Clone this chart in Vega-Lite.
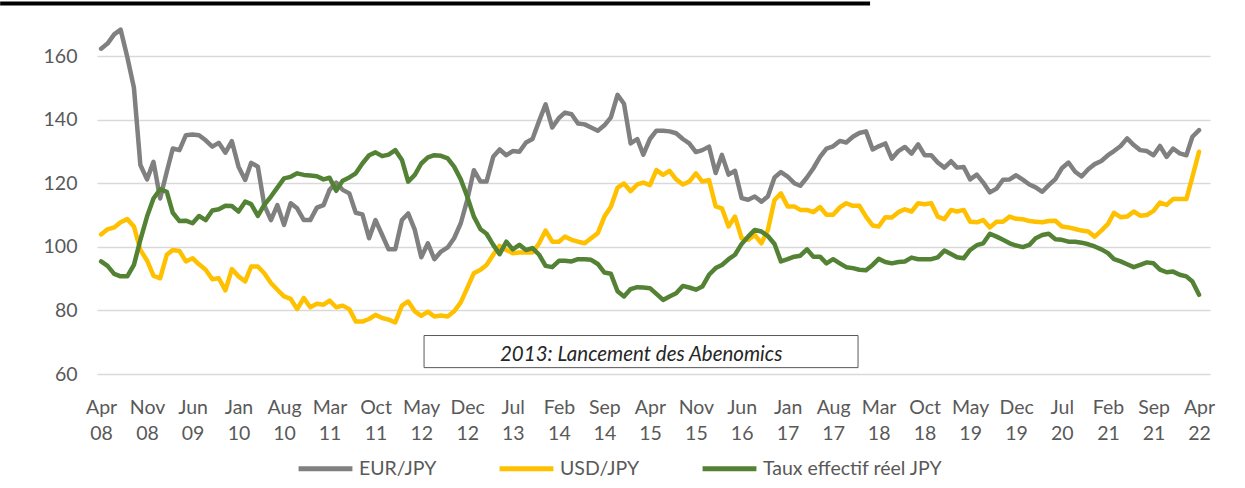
{
  "$schema": "https://vega.github.io/schema/vega-lite/v6.json",
  "autosize": "none",
  "width": 1113,
  "height": 318,
  "padding": {"left": 97, "top": 56, "right": 35, "bottom": 114},
  "background": "white",
  "config": {
    "font": "Lato",
    "view": {"stroke": null},
    "axis": {"labelFont": "Lato", "labelColor": "#595959", "labelFontSize": 19.5, "ticks": false, "domain": false, "title": null},
    "legend": {"labelFont": "Lato", "labelColor": "#595959", "labelFontSize": 19.5, "labelLimit": 400}
  },
  "data": {
    "format": {"parse": {"m": "utc:'%Y-%m'"}},
    "values": [
      {"m":"2008-04","eur":162.3,"usd":103.9,"reer":95.4},
      {"m":"2008-05","eur":163.9,"usd":105.5,"reer":94.0},
      {"m":"2008-06","eur":166.8,"usd":106.1,"reer":91.5},
      {"m":"2008-07","eur":168.3,"usd":107.7,"reer":90.7},
      {"m":"2008-08","eur":159.7,"usd":108.7,"reer":90.7},
      {"m":"2008-09","eur":150.0,"usd":106.4,"reer":94.3},
      {"m":"2008-10","eur":125.7,"usd":99.0,"reer":102.2},
      {"m":"2008-11","eur":121.2,"usd":95.7,"reer":109.5},
      {"m":"2008-12","eur":126.7,"usd":90.9,"reer":115.2},
      {"m":"2009-01","eur":115.2,"usd":90.1,"reer":118.1},
      {"m":"2009-02","eur":123.6,"usd":97.5,"reer":117.3},
      {"m":"2009-03","eur":130.9,"usd":99.0,"reer":110.7},
      {"m":"2009-04","eur":130.4,"usd":98.7,"reer":108.1},
      {"m":"2009-05","eur":135.1,"usd":95.4,"reer":108.2},
      {"m":"2009-06","eur":135.3,"usd":96.4,"reer":107.4},
      {"m":"2009-07","eur":135.1,"usd":94.5,"reer":109.7},
      {"m":"2009-08","eur":133.5,"usd":92.8,"reer":108.4},
      {"m":"2009-09","eur":131.5,"usd":89.8,"reer":111.4},
      {"m":"2009-10","eur":132.7,"usd":90.1,"reer":111.8},
      {"m":"2009-11","eur":129.6,"usd":86.3,"reer":112.9},
      {"m":"2009-12","eur":133.2,"usd":93.0,"reer":112.8},
      {"m":"2010-01","eur":125.2,"usd":90.7,"reer":111.1},
      {"m":"2010-02","eur":121.0,"usd":89.1,"reer":114.2},
      {"m":"2010-03","eur":126.4,"usd":93.8,"reer":113.4},
      {"m":"2010-04","eur":125.2,"usd":93.8,"reer":109.7},
      {"m":"2010-05","eur":113.1,"usd":91.7,"reer":113.2},
      {"m":"2010-06","eur":108.4,"usd":88.6,"reer":115.8},
      {"m":"2010-07","eur":113.1,"usd":86.5,"reer":118.6},
      {"m":"2010-08","eur":106.9,"usd":84.4,"reer":121.5},
      {"m":"2010-09","eur":113.7,"usd":83.6,"reer":122.0},
      {"m":"2010-10","eur":112.1,"usd":80.4,"reer":123.1},
      {"m":"2010-11","eur":108.4,"usd":83.9,"reer":122.6},
      {"m":"2010-12","eur":108.4,"usd":81.0,"reer":122.4},
      {"m":"2011-01","eur":112.3,"usd":82.1,"reer":122.2},
      {"m":"2011-02","eur":113.1,"usd":81.8,"reer":121.2},
      {"m":"2011-03","eur":117.9,"usd":83.1,"reer":121.7},
      {"m":"2011-04","eur":120.2,"usd":81.0,"reer":117.6},
      {"m":"2011-05","eur":117.9,"usd":81.5,"reer":120.8},
      {"m":"2011-06","eur":116.8,"usd":80.4,"reer":121.8},
      {"m":"2011-07","eur":110.7,"usd":76.5,"reer":123.1},
      {"m":"2011-08","eur":110.2,"usd":76.5,"reer":126.2},
      {"m":"2011-09","eur":102.7,"usd":77.3,"reer":128.8},
      {"m":"2011-10","eur":108.4,"usd":78.6,"reer":129.7},
      {"m":"2011-11","eur":103.7,"usd":77.6,"reer":128.5},
      {"m":"2011-12","eur":99.2,"usd":77.1,"reer":129.0},
      {"m":"2012-01","eur":99.2,"usd":76.2,"reer":130.4},
      {"m":"2012-02","eur":108.4,"usd":81.5,"reer":127.3},
      {"m":"2012-03","eur":110.5,"usd":82.8,"reer":120.5},
      {"m":"2012-04","eur":105.3,"usd":79.7,"reer":122.6},
      {"m":"2012-05","eur":96.7,"usd":78.3,"reer":126.2},
      {"m":"2012-06","eur":101.1,"usd":79.6,"reer":128.1},
      {"m":"2012-07","eur":96.1,"usd":78.1,"reer":128.8},
      {"m":"2012-08","eur":98.5,"usd":78.4,"reer":128.6},
      {"m":"2012-09","eur":99.8,"usd":78.1,"reer":127.8},
      {"m":"2012-10","eur":102.7,"usd":79.7,"reer":125.2},
      {"m":"2012-11","eur":107.4,"usd":82.5,"reer":121.2},
      {"m":"2012-12","eur":114.7,"usd":87.0,"reer":115.8},
      {"m":"2013-01","eur":124.1,"usd":91.7,"reer":109.5},
      {"m":"2013-02","eur":120.5,"usd":92.8,"reer":105.5},
      {"m":"2013-03","eur":120.5,"usd":94.3,"reer":104.1},
      {"m":"2013-04","eur":128.3,"usd":97.5,"reer":100.6},
      {"m":"2013-05","eur":130.6,"usd":100.3,"reer":97.7},
      {"m":"2013-06","eur":128.8,"usd":99.0,"reer":101.6},
      {"m":"2013-07","eur":130.1,"usd":98.0,"reer":99.2},
      {"m":"2013-08","eur":129.9,"usd":98.2,"reer":100.6},
      {"m":"2013-09","eur":132.8,"usd":98.2,"reer":99.0},
      {"m":"2013-10","eur":133.9,"usd":98.2,"reer":99.6},
      {"m":"2013-11","eur":139.6,"usd":101.1,"reer":97.5},
      {"m":"2013-12","eur":144.8,"usd":105.1,"reer":94.0},
      {"m":"2014-01","eur":137.5,"usd":101.6,"reer":93.6},
      {"m":"2014-02","eur":140.5,"usd":101.6,"reer":95.6},
      {"m":"2014-03","eur":142.2,"usd":103.2,"reer":95.6},
      {"m":"2014-04","eur":141.7,"usd":102.2,"reer":95.4},
      {"m":"2014-05","eur":138.8,"usd":101.6,"reer":96.1},
      {"m":"2014-06","eur":138.5,"usd":101.1,"reer":96.1},
      {"m":"2014-07","eur":137.5,"usd":102.7,"reer":95.9},
      {"m":"2014-08","eur":136.5,"usd":104.3,"reer":94.6},
      {"m":"2014-09","eur":138.2,"usd":109.5,"reer":91.9},
      {"m":"2014-10","eur":140.7,"usd":112.6,"reer":91.5},
      {"m":"2014-11","eur":147.8,"usd":118.6,"reer":86.0},
      {"m":"2014-12","eur":145.0,"usd":119.9,"reer":84.4},
      {"m":"2015-01","eur":132.5,"usd":117.5,"reer":86.7},
      {"m":"2015-02","eur":133.9,"usd":119.6,"reer":87.3},
      {"m":"2015-03","eur":129.0,"usd":120.2,"reer":87.2},
      {"m":"2015-04","eur":133.9,"usd":119.4,"reer":87.0},
      {"m":"2015-05","eur":136.5,"usd":124.1,"reer":85.2},
      {"m":"2015-06","eur":136.5,"usd":122.6,"reer":83.3},
      {"m":"2015-07","eur":136.3,"usd":123.9,"reer":84.4},
      {"m":"2015-08","eur":135.7,"usd":121.2,"reer":85.4},
      {"m":"2015-09","eur":133.9,"usd":119.6,"reer":87.7},
      {"m":"2015-10","eur":132.5,"usd":120.5,"reer":87.2},
      {"m":"2015-11","eur":129.8,"usd":123.1,"reer":86.5},
      {"m":"2015-12","eur":130.4,"usd":120.5,"reer":87.5},
      {"m":"2016-01","eur":131.5,"usd":121.0,"reer":91.2},
      {"m":"2016-02","eur":123.2,"usd":112.7,"reer":93.3},
      {"m":"2016-03","eur":128.9,"usd":112.1,"reer":94.3},
      {"m":"2016-04","eur":122.7,"usd":106.4,"reer":96.1},
      {"m":"2016-05","eur":123.9,"usd":109.5,"reer":97.5},
      {"m":"2016-06","eur":115.3,"usd":102.7,"reer":100.9},
      {"m":"2016-07","eur":114.8,"usd":102.2,"reer":103.2},
      {"m":"2016-08","eur":115.8,"usd":103.7,"reer":105.3},
      {"m":"2016-09","eur":114.2,"usd":101.1,"reer":104.8},
      {"m":"2016-10","eur":115.8,"usd":105.3,"reer":103.4},
      {"m":"2016-11","eur":121.8,"usd":114.7,"reer":100.9},
      {"m":"2016-12","eur":123.5,"usd":116.8,"reer":95.4},
      {"m":"2017-01","eur":122.1,"usd":112.7,"reer":96.1},
      {"m":"2017-02","eur":120.0,"usd":112.7,"reer":96.9},
      {"m":"2017-03","eur":119.2,"usd":111.6,"reer":97.2},
      {"m":"2017-04","eur":121.8,"usd":111.6,"reer":99.2},
      {"m":"2017-05","eur":124.7,"usd":110.9,"reer":96.9},
      {"m":"2017-06","eur":128.3,"usd":112.5,"reer":96.9},
      {"m":"2017-07","eur":130.9,"usd":110.1,"reer":94.8},
      {"m":"2017-08","eur":131.6,"usd":110.1,"reer":96.1},
      {"m":"2017-09","eur":133.3,"usd":112.4,"reer":94.8},
      {"m":"2017-10","eur":132.8,"usd":113.7,"reer":93.6},
      {"m":"2017-11","eur":134.6,"usd":112.9,"reer":93.3},
      {"m":"2017-12","eur":135.8,"usd":112.9,"reer":92.8},
      {"m":"2018-01","eur":136.3,"usd":109.5,"reer":92.6},
      {"m":"2018-02","eur":130.6,"usd":106.7,"reer":94.3},
      {"m":"2018-03","eur":131.6,"usd":106.4,"reer":96.2},
      {"m":"2018-04","eur":132.5,"usd":109.3,"reer":95.2},
      {"m":"2018-05","eur":127.7,"usd":109.2,"reer":94.8},
      {"m":"2018-06","eur":130.1,"usd":110.9,"reer":95.2},
      {"m":"2018-07","eur":131.4,"usd":111.8,"reer":95.4},
      {"m":"2018-08","eur":129.3,"usd":111.1,"reer":96.6},
      {"m":"2018-09","eur":132.2,"usd":113.7,"reer":96.1},
      {"m":"2018-10","eur":128.8,"usd":113.4,"reer":96.1},
      {"m":"2018-11","eur":128.8,"usd":113.7,"reer":96.1},
      {"m":"2018-12","eur":126.5,"usd":109.5,"reer":96.7},
      {"m":"2019-01","eur":124.9,"usd":108.7,"reer":98.8},
      {"m":"2019-02","eur":126.9,"usd":111.6,"reer":97.7},
      {"m":"2019-03","eur":124.9,"usd":111.1,"reer":96.7},
      {"m":"2019-04","eur":125.1,"usd":111.6,"reer":96.4},
      {"m":"2019-05","eur":121.2,"usd":107.9,"reer":99.0},
      {"m":"2019-06","eur":122.7,"usd":107.7,"reer":100.5},
      {"m":"2019-07","eur":120.2,"usd":108.4,"reer":101.1},
      {"m":"2019-08","eur":117.1,"usd":106.1,"reer":104.1},
      {"m":"2019-09","eur":118.3,"usd":107.9,"reer":103.2},
      {"m":"2019-10","eur":121.1,"usd":107.9,"reer":102.2},
      {"m":"2019-11","eur":121.2,"usd":109.5,"reer":101.1},
      {"m":"2019-12","eur":122.5,"usd":108.8,"reer":100.4},
      {"m":"2020-01","eur":121.1,"usd":108.7,"reer":99.9},
      {"m":"2020-02","eur":119.6,"usd":108.1,"reer":100.6},
      {"m":"2020-03","eur":118.7,"usd":107.9,"reer":102.7},
      {"m":"2020-04","eur":117.3,"usd":107.7,"reer":103.7},
      {"m":"2020-05","eur":119.4,"usd":108.1,"reer":104.1},
      {"m":"2020-06","eur":121.3,"usd":108.2,"reer":102.4},
      {"m":"2020-07","eur":124.7,"usd":106.4,"reer":102.2},
      {"m":"2020-08","eur":126.5,"usd":106.1,"reer":101.6},
      {"m":"2020-09","eur":123.6,"usd":105.6,"reer":101.6},
      {"m":"2020-10","eur":122.1,"usd":105.1,"reer":101.3},
      {"m":"2020-11","eur":124.4,"usd":104.8,"reer":100.8},
      {"m":"2020-12","eur":126.0,"usd":103.2,"reer":100.1},
      {"m":"2021-01","eur":127.0,"usd":105.1,"reer":99.2},
      {"m":"2021-02","eur":128.8,"usd":107.2,"reer":98.0},
      {"m":"2021-03","eur":130.1,"usd":110.7,"reer":96.1},
      {"m":"2021-04","eur":131.7,"usd":109.3,"reer":95.4},
      {"m":"2021-05","eur":134.1,"usd":109.5,"reer":94.5},
      {"m":"2021-06","eur":132.0,"usd":111.1,"reer":93.6},
      {"m":"2021-07","eur":130.4,"usd":109.8,"reer":94.3},
      {"m":"2021-08","eur":130.1,"usd":110.0,"reer":95.1},
      {"m":"2021-09","eur":128.8,"usd":111.3,"reer":94.8},
      {"m":"2021-10","eur":131.7,"usd":113.9,"reer":92.8},
      {"m":"2021-11","eur":128.3,"usd":113.2,"reer":92.0},
      {"m":"2021-12","eur":130.9,"usd":115.0,"reer":92.2},
      {"m":"2022-01","eur":129.4,"usd":115.0,"reer":91.2},
      {"m":"2022-02","eur":128.8,"usd":115.0,"reer":90.7},
      {"m":"2022-03","eur":134.6,"usd":122.0,"reer":89.1},
      {"m":"2022-04","eur":136.7,"usd":129.9,"reer":84.9}
    ]
  },
  "layer": [
    {
      "transform": [{"fold": ["eur", "usd", "reer"], "as": ["series", "value"]}],
      "mark": {"type": "line", "strokeWidth": 4.5, "strokeJoin": "round", "strokeCap": "round", "clip": false},
      "encoding": {
        "x": {
          "field": "m", "type": "temporal",
          "scale": {"type": "utc", "domain": [{"year": 2008, "month": 3, "date": 13, "utc": true}, {"year": 2022, "month": 5, "date": 22, "utc": true}]},
          "axis": {
            "values": [
              {"year":2008,"month":4,"date":1,"utc":true},{"year":2008,"month":11,"date":1,"utc":true},{"year":2009,"month":6,"date":1,"utc":true},
              {"year":2010,"month":1,"date":1,"utc":true},{"year":2010,"month":8,"date":1,"utc":true},{"year":2011,"month":3,"date":1,"utc":true},
              {"year":2011,"month":10,"date":1,"utc":true},{"year":2012,"month":5,"date":1,"utc":true},{"year":2012,"month":12,"date":1,"utc":true},
              {"year":2013,"month":7,"date":1,"utc":true},{"year":2014,"month":2,"date":1,"utc":true},{"year":2014,"month":9,"date":1,"utc":true},
              {"year":2015,"month":4,"date":1,"utc":true},{"year":2015,"month":11,"date":1,"utc":true},{"year":2016,"month":6,"date":1,"utc":true},
              {"year":2017,"month":1,"date":1,"utc":true},{"year":2017,"month":8,"date":1,"utc":true},{"year":2018,"month":3,"date":1,"utc":true},
              {"year":2018,"month":10,"date":1,"utc":true},{"year":2019,"month":5,"date":1,"utc":true},{"year":2019,"month":12,"date":1,"utc":true},
              {"year":2020,"month":7,"date":1,"utc":true},{"year":2021,"month":2,"date":1,"utc":true},{"year":2021,"month":9,"date":1,"utc":true},
              {"year":2022,"month":4,"date":1,"utc":true}
            ],
            "labelExpr": "[utcFormat(datum.value, '%b'), utcFormat(datum.value, '%y')]",
            "labelLineHeight": 26,
            "labelPadding": 24,
            "grid": false,
            "labelOverlap": false,
            "labelFlush": false
          }
        },
        "y": {
          "field": "value", "type": "quantitative",
          "scale": {"domain": [60, 160], "nice": false, "zero": false},
          "axis": {"values": [60, 80, 100, 120, 140, 160], "grid": true, "gridColor": "#d9d9d9", "gridWidth": 1.5, "labelPadding": 20}
        },
        "color": {
          "field": "series", "type": "nominal",
          "scale": {"domain": ["eur", "usd", "reer"], "range": ["#808080", "#FFC000", "#548235"]},
          "legend": {
            "orient": "none", "legendX": 199, "legendY": 383, "direction": "horizontal", "title": null,
            "symbolType": "stroke", "symbolSize": 2900, "symbolStrokeWidth": 5, "labelOffset": 4, "columnPadding": 52,
            "labelExpr": "datum.label == 'eur' ? 'EUR/JPY' : datum.label == 'usd' ? 'USD/JPY' : 'Taux effectif réel JPY'"
          }
        },
        "order": {"field": "m", "type": "temporal"}
      }
    },
    {
      "data": {"values": [{}]},
      "mark": {"type": "rect", "fill": "white", "stroke": "#595959", "strokeWidth": 1, "clip": false},
      "encoding": {
        "x": {"datum": {"year": 2012, "month": 5, "date": 14, "utc": true}, "type": "temporal"},
        "x2": {"datum": {"year": 2017, "month": 11, "date": 25, "utc": true}},
        "y": {"datum": 72.1, "type": "quantitative"},
        "y2": {"datum": 62.0}
      }
    },
    {
      "data": {"values": [{}]},
      "mark": {"type": "text", "text": "2013: Lancement des Abenomics", "font": "Lato", "fontStyle": "italic", "fontSize": 20.5, "color": "#262626", "align": "center", "baseline": "middle"},
      "encoding": {
        "x": {"datum": {"year": 2015, "month": 2, "date": 19, "utc": true}, "type": "temporal"},
        "y": {"datum": 66.0, "type": "quantitative"}
      }
    },
    {
      "data": {"values": [{}]},
      "mark": {"type": "rule", "color": "black", "strokeWidth": 4, "clip": false},
      "encoding": {
        "x": {"datum": {"year": 2006, "month": 12, "date": 18, "utc": true}, "type": "temporal"},
        "x2": {"datum": {"year": 2018, "month": 1, "date": 20, "utc": true}},
        "y": {"datum": 176.5, "type": "quantitative"}
      }
    }
  ]
}
